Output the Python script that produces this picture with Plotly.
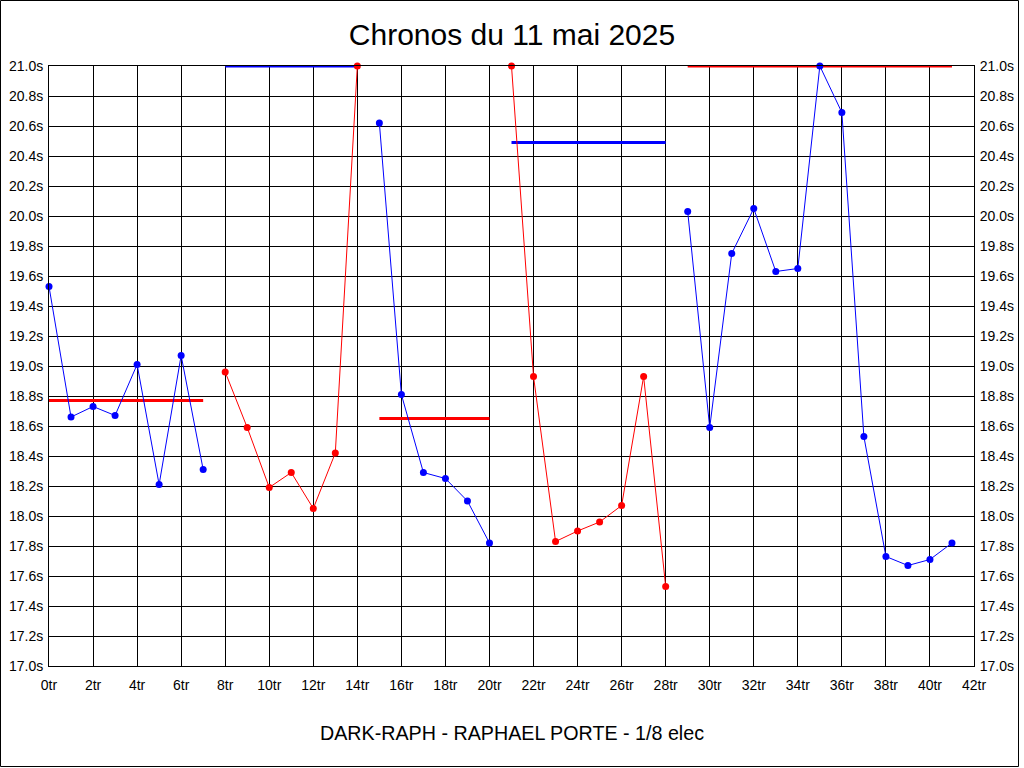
import plotly.graph_objects as go

# lap times (s), one value per lap; 21.0 is where the chart clips
laps = list(range(42))
times = [19.53, 18.66, 18.73, 18.67, 19.01, 18.21, 19.07, 18.31,
         18.96, 18.59, 18.19, 18.29, 18.05, 18.42, 21.00,
         20.62, 18.81, 18.29, 18.25, 18.10, 17.82,
         21.00, 18.93, 17.83, 17.90, 17.96, 18.07, 18.93, 17.53,
         20.03, 18.59, 19.75, 20.05, 19.63, 19.65, 21.00, 20.69, 18.53,
         17.73, 17.67, 17.71, 17.82]

# stints: first and last lap
stint_start = [0, 8, 15, 21, 29]
stint_end = [7, 14, 20, 28, 41]
stint_colors = ["blue", "red", "blue", "red", "blue"]
stint_avg = [18.77, 21.0, 18.65, 20.49, 21.0]
avg_colors = ["red", "blue", "red", "blue", "red"]

xticks = list(range(0, 43, 2))
yticks = [round(17 + 0.2 * i, 1) for i in range(21)]

fig = go.Figure()

for s, e, a, c in zip(stint_start, stint_end, stint_avg, avg_colors):
    fig.add_trace(go.Scatter(x=[s, e], y=[a, a], mode="lines",
                             line=dict(color=c, width=3), cliponaxis=False,
                             hoverinfo="skip"))

for s, e, c in zip(stint_start, stint_end, stint_colors):
    fig.add_trace(go.Scatter(x=laps[s:e + 1], y=times[s:e + 1], mode="lines+markers",
                             line=dict(color=c, width=1),
                             marker=dict(color=c, size=7),
                             cliponaxis=False))

# invisible trace for the right-hand axis
fig.add_trace(go.Scatter(x=[0], y=[17], yaxis="y2", mode="markers",
                         marker=dict(opacity=0), hoverinfo="skip"))

axis_font = dict(family="Liberation Sans, Arial", size=14, color="black")

fig.update_layout(
    width=1024, height=768,
    autosize=False,
    showlegend=False,
    paper_bgcolor="white",
    plot_bgcolor="white",
    margin=dict(l=49, r=50, t=66, b=102, autoexpand=False),
    title=dict(text="Chronos du 11 mai 2025", x=0.5, xanchor="center",
               y=1 - 34 / 768, yanchor="middle", automargin=False,
               font=dict(family="Liberation Sans, Arial", size=30, color="black")),
    xaxis=dict(range=[0, 42], tickvals=xticks,
               ticktext=[f"{t}tr" for t in xticks],
               showgrid=True, gridcolor="black", gridwidth=1,
               showline=True, linecolor="black", linewidth=1, mirror=True,
               ticks="outside", ticklen=6, tickcolor="white",
               tickfont=axis_font, automargin=False,
               zeroline=False, fixedrange=True),
    yaxis=dict(range=[17, 21], tickvals=yticks,
               ticktext=[f"{t:.1f}s" for t in yticks],
               showgrid=True, gridcolor="black", gridwidth=1,
               showline=True, linecolor="black", linewidth=1, mirror=True,
               ticks="outside", ticklen=2, tickcolor="white",
               tickfont=axis_font, automargin=False,
               zeroline=False, fixedrange=True),
    yaxis2=dict(range=[17, 21], tickvals=yticks,
                ticktext=[f"{t:.1f}s" for t in yticks],
                overlaying="y", side="right", showgrid=False,
                ticks="outside", ticklen=2, tickcolor="white",
                tickfont=axis_font, automargin=False,
                zeroline=False, fixedrange=True),
    annotations=[dict(text="DARK-RAPH - RAPHAEL PORTE - 1/8 elec",
                      xref="paper", yref="paper", x=0.5, y=-(733 - 666) / 600,
                      xanchor="center", yanchor="middle", showarrow=False,
                      font=dict(family="Liberation Sans, Arial", size=19.7, color="black"))],
    shapes=[dict(type="rect", xref="paper", yref="paper",
                 x0=(0.5 - 49) / 925, x1=(1018.5 - 49) / 925,
                 y0=(666 - 766.5) / 600, y1=(666 - 0.5) / 600,
                 line=dict(color="black", width=1))],
)

fig.write_html("out.html", config={"displayModeBar": False},
               post_script="document.body.style.margin='0';")
